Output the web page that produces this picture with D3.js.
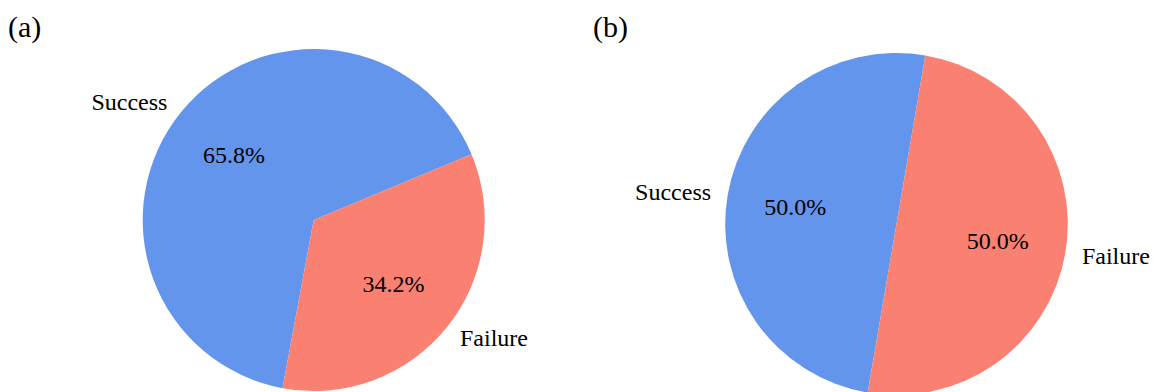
<!DOCTYPE html>
<html>
<head>
<meta charset="utf-8">
<script src="https://cdn.jsdelivr.net/npm/d3@7"></script>
<style>
  html, body { margin: 0; padding: 0; background: #fff; }
  svg { display: block; }
</style>
</head>
<body>
<svg id="chart" width="1153" height="392"></svg>
<script>
// Outcome categories and their shares (%) in each panel
const categories = ["Success", "Failure"];
const valuesA = [65.8, 34.2];
const valuesB = [50.0, 50.0];
const panelTitles = ["(a)", "(b)"];
const colors = ["#6495ED", "#FA8072"];
const serif = "'Liberation Serif', 'Times New Roman', Times, serif";

const svg = d3.select("#chart");

// Panel geometry: centre, radius and start angle (degrees, counter-clockwise from 3 o'clock)
const panels = [
  { values: valuesA, title: panelTitles[0], cx: 313.7, cy: 220, r: 171, start: 22.6, tx: 8, ty: 37 },
  { values: valuesB, title: panelTitles[1], cx: 896.5, cy: 224, r: 171, start: 80.3, tx: 593, ty: 37 }
];

const toRad = d => d * Math.PI / 180;

panels.forEach(p => {
  // d3 angles run clockwise from 12 o'clock; wedges here run counter-clockwise
  const a0 = toRad(90 - p.start);
  const pie = d3.pie().sort(null).value(d => d.v)
    .startAngle(a0).endAngle(a0 - 2 * Math.PI);
  const data = pie(categories.map((c, i) => ({ c, v: p.values[i], i })));

  const g = svg.append("g").attr("transform", `translate(${p.cx},${p.cy})`);
  const arc = d3.arc().innerRadius(0).outerRadius(p.r);
  const labelArc = d3.arc().innerRadius(p.r * 1.1).outerRadius(p.r * 1.1);
  const pctArc = d3.arc().innerRadius(p.r * 0.6).outerRadius(p.r * 0.6);

  g.selectAll("path.slice").data(data).join("path")
    .attr("class", "slice")
    .attr("d", arc)
    .attr("fill", d => colors[d.data.i]);

  g.selectAll("text.pct").data(data).join("text")
    .attr("class", "pct")
    .attr("transform", d => `translate(${pctArc.centroid(d)})`)
    .attr("text-anchor", "middle")
    .attr("dy", "0.33em")
    .attr("font-family", serif)
    .attr("font-size", 24)
    .attr("fill", "#000")
    .text(d => d3.format(".1f")(d.data.v) + "%");

  g.selectAll("text.lbl").data(data).join("text")
    .attr("class", "lbl")
    .attr("transform", d => `translate(${labelArc.centroid(d)})`)
    .attr("text-anchor", d => labelArc.centroid(d)[0] < 0 ? "end" : "start")
    .attr("dy", "0.33em")
    .attr("font-family", serif)
    .attr("font-size", 24)
    .attr("fill", "#000")
    .text(d => d.data.c);

  svg.append("text")
    .attr("x", p.tx).attr("y", p.ty)
    .attr("font-family", serif)
    .attr("font-size", 30)
    .attr("fill", "#000")
    .text(p.title);
});
</script>
</body>
</html>
